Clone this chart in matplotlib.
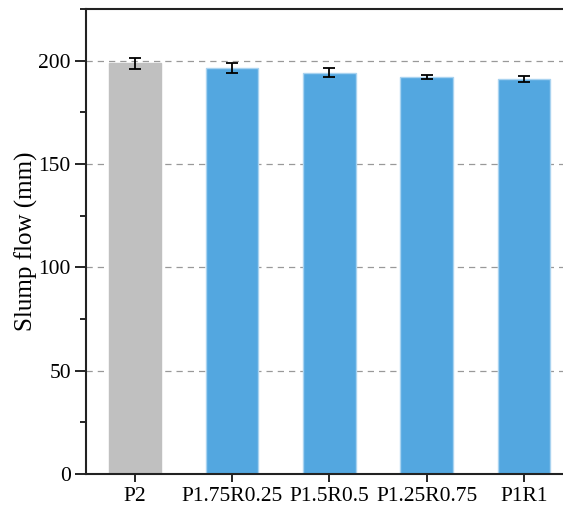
import matplotlib
matplotlib.use("Agg")
import matplotlib.pyplot as plt
from matplotlib.ticker import MultipleLocator

categories = ["P2", "P1.75R0.25", "P1.5R0.5", "P1.25R0.75", "P1R1"]
values = [198.9, 196.6, 194.3, 192.1, 191.3]
errors = [2.7, 2.5, 2.2, 1.1, 1.5]
colors = ["#C0C0C0", "#53A7E0", "#53A7E0", "#53A7E0", "#53A7E0"]
edgecolors = ["#C0C0C0", "#A9D3F0", "#A9D3F0", "#A9D3F0", "#A9D3F0"]

plt.rcParams['font.family'] = ['Liberation Serif', 'DejaVu Serif']

fig = plt.figure(figsize=(5.63, 5.11), dpi=100)
ax = fig.add_axes([0.153, 0.0724, 0.847, 0.9096])

x = list(range(len(categories)))
ax.bar(x, values, width=0.54, color=colors, edgecolor=edgecolors, linewidth=1.0, zorder=2)
ax.errorbar(x, values, yerr=errors, fmt='none', ecolor='black', elinewidth=1.3,
            capsize=4, capthick=1.3, zorder=3)

ax.set_xlim(-0.5, 4.4)
ax.set_ylim(0, 225)
ax.set_xticks(x)
ax.set_xticklabels(categories)
ax.yaxis.set_major_locator(MultipleLocator(50))
ax.yaxis.set_minor_locator(MultipleLocator(25))
ax.set_ylabel("Slump flow (mm)", fontsize=18, labelpad=0.5)
ax.tick_params(axis='both', labelsize=15.5, direction='out', width=1.2, length=8, pad=3)
ax.tick_params(axis='y', which='minor', direction='out', width=1.2, length=4)
ax.tick_params(axis='x', length=6)

for yv in [50, 100, 150, 200]:
    ax.axhline(yv, color='#999999', linestyle=(0, (5, 4)), linewidth=0.9, zorder=1)

ax.spines['right'].set_visible(False)
for s in ['left', 'bottom', 'top']:
    ax.spines[s].set_linewidth(1.5)
    ax.spines[s].set_color('#222222')

fig.savefig("out.png", dpi=100)
